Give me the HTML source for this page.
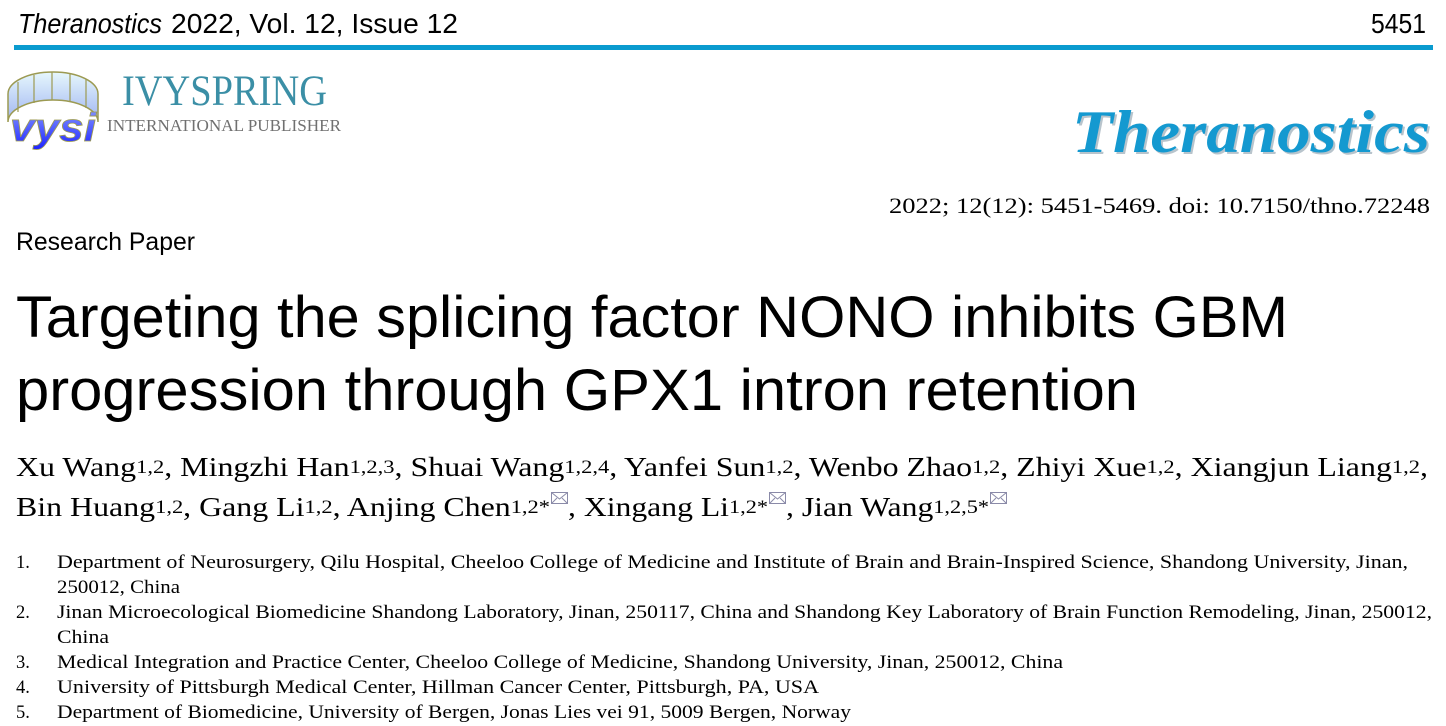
<!DOCTYPE html>
<html><head><meta charset="utf-8"><style>
html,body{margin:0;padding:0;background:#fff;}
svg{display:block;}
</style></head><body>
<svg width="1446" height="726" viewBox="0 0 1446 726" xmlns="http://www.w3.org/2000/svg">
<defs>
<linearGradient id="band" x1="0" y1="0" x2="0" y2="1">
<stop offset="0" stop-color="#e6f7fc"/><stop offset="1" stop-color="#9fb4f2"/>
</linearGradient>
<linearGradient id="vys" x1="0" y1="0" x2="0" y2="1">
<stop offset="0" stop-color="#8a9cff"/><stop offset="1" stop-color="#1c22ff"/>
</linearGradient>
</defs>
<rect width="1446" height="726" fill="#fff"/>

<!-- header -->
<text x="18" y="33" font-family="Liberation Sans, sans-serif" font-size="28" font-style="italic" textLength="144" lengthAdjust="spacingAndGlyphs" fill="#000">Theranostics</text>
<text x="171" y="33" font-family="Liberation Sans, sans-serif" font-size="28" textLength="287" lengthAdjust="spacingAndGlyphs" fill="#000">2022, Vol. 12, Issue 12</text>
<text x="1371" y="33" font-family="Liberation Sans, sans-serif" font-size="28" textLength="55" lengthAdjust="spacingAndGlyphs" fill="#000">5451</text>
<rect x="14" y="45" width="1419" height="5" fill="#0a9bcf"/>

<!-- ivyspring logo -->
<g>
<path d="M8,94 A45,22 0 0 1 98,94 L98,122 A45,22 0 0 0 8,122 Z" fill="url(#band)" stroke="#9c9a52" stroke-width="1.5"/>
<path d="M18,82 L18,112 M34,75 L34,103 M52,72 L52,100 M70,73 L70,101 M86,79 L86,108" stroke="#9c9a52" stroke-width="1.2"/>
<text x="10" y="141" font-family="Liberation Sans, sans-serif" font-weight="bold" font-style="italic" font-size="40" textLength="86" lengthAdjust="spacingAndGlyphs" fill="url(#vys)" stroke="#9c9a52" stroke-width="0.8">vysi</text>
</g>
<text x="122" y="105" font-family="Liberation Serif, serif" font-size="43" textLength="205" lengthAdjust="spacingAndGlyphs" fill="#3b8fa6">IVYSPRING</text>
<text x="107" y="131" font-family="Liberation Serif, serif" font-size="16.5" textLength="234" lengthAdjust="spacingAndGlyphs" fill="#707070">INTERNATIONAL PUBLISHER</text>

<!-- Theranostics logo -->
<text x="1074" y="154" font-family="Liberation Serif, serif" font-weight="bold" font-style="italic" font-size="60" textLength="358" lengthAdjust="spacingAndGlyphs" fill="#b8c4cc">Theranostics</text>
<text x="1072" y="152" font-family="Liberation Serif, serif" font-weight="bold" font-style="italic" font-size="60" textLength="358" lengthAdjust="spacingAndGlyphs" fill="#1499d0">Theranostics</text>

<!-- doi -->
<text x="889" y="213" font-family="Liberation Serif, serif" font-size="22" textLength="541" lengthAdjust="spacingAndGlyphs" fill="#000">2022; 12(12): 5451-5469. doi: 10.7150/thno.72248</text>

<!-- research paper -->
<text x="16" y="250" font-family="Liberation Sans, sans-serif" font-size="25" textLength="179" lengthAdjust="spacingAndGlyphs" fill="#000">Research Paper</text>

<!-- title -->
<text x="16" y="337" font-family="Liberation Sans, sans-serif" font-size="58" textLength="1272" lengthAdjust="spacingAndGlyphs" fill="#000">Targeting the splicing factor NONO inhibits GBM</text>
<text x="16" y="410" font-family="Liberation Sans, sans-serif" font-size="58" textLength="1122" lengthAdjust="spacingAndGlyphs" fill="#000">progression through GPX1 intron retention</text>

<!-- authors -->
<g font-family="Liberation Serif, serif" fill="#000">
<text x="16" y="476" font-size="27" textLength="1412" lengthAdjust="spacingAndGlyphs">Xu Wang<tspan font-size="19" dy="-3">1,2</tspan><tspan dy="3">, Mingzhi Han</tspan><tspan font-size="19" dy="-3">1,2,3</tspan><tspan dy="3">, Shuai Wang</tspan><tspan font-size="19" dy="-3">1,2,4</tspan><tspan dy="3">, Yanfei Sun</tspan><tspan font-size="19" dy="-3">1,2</tspan><tspan dy="3">, Wenbo Zhao</tspan><tspan font-size="19" dy="-3">1,2</tspan><tspan dy="3">, Zhiyi Xue</tspan><tspan font-size="19" dy="-3">1,2</tspan><tspan dy="3">, Xiangjun Liang</tspan><tspan font-size="19" dy="-3">1,2</tspan><tspan dy="3">,</tspan></text>
<text x="16" y="516" font-size="27" textLength="534" lengthAdjust="spacingAndGlyphs">Bin Huang<tspan font-size="19" dy="-3">1,2</tspan><tspan dy="3">, Gang Li</tspan><tspan font-size="19" dy="-3">1,2</tspan><tspan dy="3">, Anjing Chen</tspan><tspan font-size="19" dy="-3">1,2*</tspan></text>
<text x="568" y="516" font-size="27" textLength="200" lengthAdjust="spacingAndGlyphs">, Xingang Li<tspan font-size="19" dy="-3">1,2*</tspan></text>
<text x="786" y="516" font-size="27" textLength="203" lengthAdjust="spacingAndGlyphs">, Jian Wang<tspan font-size="19" dy="-3">1,2,5*</tspan></text>
</g>
<g fill="none" stroke="#8a8aa8" stroke-width="1">
<rect x="551.5" y="492.5" width="16" height="11"/><path d="M551.5,492.5 L559.5,499 L567.5,492.5 M551.5,503.5 L557,498 M567.5,503.5 L562,498"/>
<rect x="769.5" y="492.5" width="16" height="11"/><path d="M769.5,492.5 L777.5,499 L785.5,492.5 M769.5,503.5 L775,498 M785.5,503.5 L780,498"/>
<rect x="990.5" y="492.5" width="16" height="11"/><path d="M990.5,492.5 L998.5,499 L1006.5,492.5 M990.5,503.5 L996,498 M1006.5,503.5 L1001,498"/>
</g>

<!-- affiliations -->
<g font-family="Liberation Serif, serif" font-size="18.5" fill="#000">
<text x="16" y="568">1.</text>
<text x="57" y="568" textLength="1351" lengthAdjust="spacingAndGlyphs">Department of Neurosurgery, Qilu Hospital, Cheeloo College of Medicine and Institute of Brain and Brain-Inspired Science, Shandong University, Jinan,</text>
<text x="57" y="593" textLength="123" lengthAdjust="spacingAndGlyphs">250012, China</text>
<text x="16" y="618">2.</text>
<text x="57" y="618" textLength="1375" lengthAdjust="spacingAndGlyphs">Jinan Microecological Biomedicine Shandong Laboratory, Jinan, 250117, China and Shandong Key Laboratory of Brain Function Remodeling, Jinan, 250012,</text>
<text x="57" y="643" textLength="52" lengthAdjust="spacingAndGlyphs">China</text>
<text x="16" y="668">3.</text>
<text x="57" y="668" textLength="1006" lengthAdjust="spacingAndGlyphs">Medical Integration and Practice Center, Cheeloo College of Medicine, Shandong University, Jinan, 250012, China</text>
<text x="16" y="693">4.</text>
<text x="57" y="693" textLength="762" lengthAdjust="spacingAndGlyphs">University of Pittsburgh Medical Center, Hillman Cancer Center, Pittsburgh, PA, USA</text>
<text x="16" y="718">5.</text>
<text x="57" y="718" textLength="794" lengthAdjust="spacingAndGlyphs">Department of Biomedicine, University of Bergen, Jonas Lies vei 91, 5009 Bergen, Norway</text>
</g>
</svg>
</body></html>
